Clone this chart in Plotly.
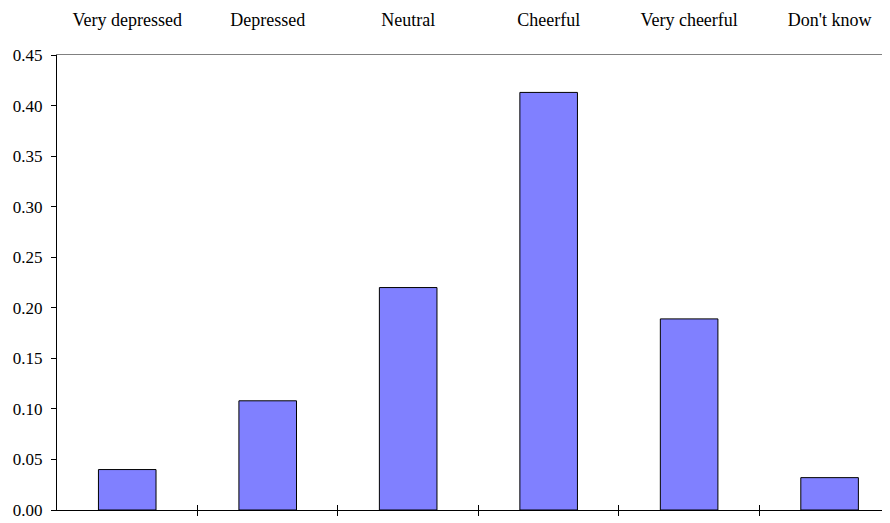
import plotly.graph_objects as go

categories = ["Very depressed", "Depressed", "Neutral", "Cheerful", "Very cheerful", "Don't know"]
values = [0.040, 0.108, 0.220, 0.413, 0.189, 0.032]
y_ticks = [0.00, 0.05, 0.10, 0.15, 0.20, 0.25, 0.30, 0.35, 0.40, 0.45]
boundaries = [0.5, 1.5, 2.5, 3.5, 4.5]

FONT = "Liberation Serif"
xr = [-0.5, 5.43]

fig = go.Figure()
fig.add_trace(go.Bar(
    x=categories, y=values, width=0.41,
    marker=dict(color="#8080FF", line=dict(color="black", width=1)),
    showlegend=False, hoverinfo="skip",
))
# invisible helper traces so the bottom tick axes are created
for ax in ("x2", "x3"):
    fig.add_trace(go.Scatter(
        x=boundaries, y=[0] * len(boundaries), xaxis=ax, yaxis="y",
        mode="none", showlegend=False, hoverinfo="skip",
    ))

# the page body has an 8px default margin, so the figure is sized to fit
fig.update_layout(
    width=882, height=515,
    margin=dict(l=49, r=0, t=47, b=13),
    paper_bgcolor="white", plot_bgcolor="white",
    font=dict(family=FONT, size=17, color="black"),
    xaxis=dict(
        side="top", type="category", range=xr, automargin=False,
        showline=True, linecolor="#808080", linewidth=1,
        ticks="", showgrid=False, zeroline=False,
        tickfont=dict(family=FONT, size=18, color="black"),
        ticklabelstandoff=21,
    ),
    xaxis2=dict(
        overlaying="x", anchor="y", side="bottom", type="linear", range=xr,
        automargin=False,
        showline=True, linecolor="black", linewidth=1,
        tickmode="array", tickvals=boundaries, ticks="outside", ticklen=5,
        tickcolor="black", showticklabels=False, showgrid=False, zeroline=False,
    ),
    xaxis3=dict(
        overlaying="x", anchor="y", side="bottom", type="linear", range=xr,
        automargin=False, showline=False,
        tickmode="array", tickvals=boundaries, ticks="inside", ticklen=5,
        tickcolor="black", showticklabels=False, showgrid=False, zeroline=False,
    ),
    yaxis=dict(
        range=[0, 0.45], tickmode="array", tickvals=y_ticks, automargin=False,
        tickformat=".2f", ticks="outside", ticklen=5, tickcolor="black",
        showline=True, linecolor="black", linewidth=1,
        showgrid=False, zeroline=False,
        tickfont=dict(family=FONT, size=17, color="black"),
        ticklabelstandoff=5,
    ),
)

fig.write_html("out.html")
